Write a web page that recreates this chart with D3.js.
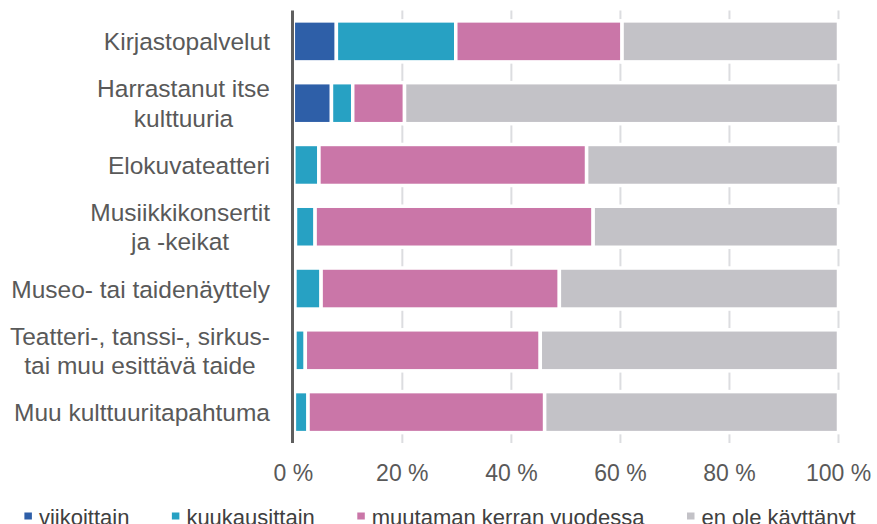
<!DOCTYPE html>
<html>
<head>
<meta charset="utf-8">
<script src="https://cdn.jsdelivr.net/npm/d3@7"></script>
<style>
  body { margin: 0; background: #fff; }
  svg { display: block; font-family: 'Liberation Sans', Arial, sans-serif; }
  .label { fill: #595959; font-size: 24.5px; }
  .tick-label { fill: #595959; font-size: 23px; }
  .legend text { fill: #404040; font-size: 22px; }
</style>
</head>
<body>
<div id="chart-area"></div>
<script>
const categories = [
  'Kirjastopalvelut',
  'Harrastanut itse\nkulttuuria',
  'Elokuvateatteri',
  'Musiikkikonsertit\nja -keikat',
  'Museo- tai taidenäyttely',
  'Teatteri-, tanssi-, sirkus-\ntai muu esittävä taide',
  'Muu kulttuuritapahtuma'
];
const seriesNames = ['viikoittain', 'kuukausittain', 'muutaman kerran vuodessa', 'en ole käyttänyt'];
const viikoittain = [7.9, 7.0, 0.1, 0.4, 0.3, 0.3, 0.2];
const kuukausittain = [21.9, 3.9, 4.6, 3.6, 4.8, 1.9, 2.5];
const muutamanKerran = [30.5, 9.5, 49.1, 51.0, 43.7, 43.1, 43.4];
const enOleKayttanyt = [39.7, 79.6, 46.2, 45.0, 51.2, 54.7, 53.9];
const tickValues = [0, 20, 40, 60, 80, 100];

const chartSize = { width: 877, height: 524 };
const plot = { left: 293.3, right: 838.5, top: 10.5, bottom: 443 };
const colors = ['#2e5fa8', '#27a1c3', '#ca76a8', '#c3c2c7'];

const rows = categories.map((c, i) => ({
  category: c,
  [seriesNames[0]]: viikoittain[i],
  [seriesNames[1]]: kuukausittain[i],
  [seriesNames[2]]: muutamanKerran[i],
  [seriesNames[3]]: enOleKayttanyt[i]
}));

const drawChart = () => {
  const svg = d3.select('#chart-area').append('svg')
    .attr('width', chartSize.width)
    .attr('height', chartSize.height);

  const x = d3.scaleLinear().domain([0, 100]).range([plot.left, plot.right]);
  const y = d3.scaleBand()
    .domain(categories)
    .range([plot.top, plot.bottom])
    .paddingInner(0.336)
    .paddingOuter(0.168);

  // gridlines
  svg.append('g').selectAll('line')
    .data(tickValues.filter(t => t > 0))
    .enter().append('line')
    .attr('x1', d => x(d)).attr('x2', d => x(d))
    .attr('y1', plot.top).attr('y2', plot.bottom)
    .attr('stroke', '#dcdde0')
    .attr('stroke-width', 2);

  const stacked = d3.stack().keys(seriesNames)(rows);
  svg.append('g').attr('class', 'bars')
    .selectAll('g')
    .data(stacked)
    .enter().append('g')
    .attr('fill', (s, i) => colors[i])
    .selectAll('rect')
    .data(s => s)
    .enter().append('rect')
    .attr('x', d => x(d[0]))
    .attr('width', d => x(d[1]) - x(d[0]))
    .attr('y', d => y(d.data.category))
    .attr('height', y.bandwidth())
    .attr('stroke', '#fff')
    .attr('stroke-width', 3.5);

  // axis line
  svg.append('line')
    .attr('x1', x(0) - 0.8).attr('x2', x(0) - 0.8)
    .attr('y1', plot.top).attr('y2', plot.bottom)
    .attr('stroke', '#5f5f5f')
    .attr('stroke-width', 3);

  // x tick labels
  svg.append('g').selectAll('text')
    .data(tickValues)
    .enter().append('text')
    .attr('class', 'tick-label')
    .attr('x', d => x(d))
    .attr('y', 481)
    .attr('text-anchor', 'middle')
    .text(d => `${d} %`);

  // category labels
  const labelRight = 270;
  const lineHeight = 29.4;
  categories.forEach(c => {
    const lines = c.split('\n');
    const cy = y(c) + y.bandwidth() / 2;
    const t = svg.append('text')
      .attr('class', 'label')
      .attr('text-anchor', 'middle');
    const spans = lines.map((l, i) => t.append('tspan')
      .attr('y', cy + 9 + (i - (lines.length - 1) / 2) * lineHeight)
      .text(l));
    const maxW = d3.max(spans, s => s.node().getComputedTextLength());
    spans.forEach(s => s.attr('x', labelRight - maxW / 2));
  });

  // legend
  const legend = svg.append('g').attr('class', 'legend');
  let offset = 0;
  seriesNames.forEach((name, i) => {
    const item = legend.append('g').attr('transform', `translate(${offset},0)`);
    item.append('rect')
      .attr('x', 0).attr('y', 512.5)
      .attr('width', 7.5).attr('height', 7)
      .attr('fill', colors[i]);
    const txt = item.append('text')
      .attr('x', 14.5).attr('y', 524.5)
      .text(name);
    offset += 14.5 + txt.node().getComputedTextLength() + 42.5;
  });
  const legendWidth = offset - 42.5;
  legend.attr('transform', `translate(${(chartSize.width - legendWidth) / 2 + 1.5},0)`);
};

window.onload = drawChart;
</script>
</body>
</html>
